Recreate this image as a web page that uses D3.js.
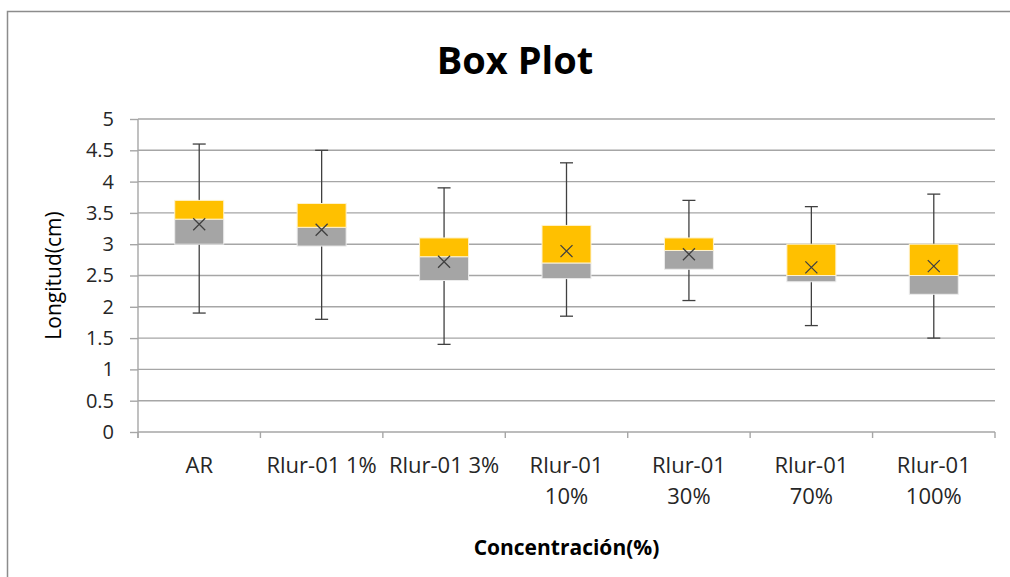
<!DOCTYPE html>
<html>
<head>
<meta charset="utf-8">
<script src="https://cdn.jsdelivr.net/npm/d3@7"></script>
<style>
  html, body { margin: 0; padding: 0; background: #fff; overflow: hidden; }
  svg { display: block; font-family: "Open Sans", sans-serif; }
</style>
</head>
<body>
<svg id="chart" width="1010" height="577"></svg>
<script>
// Categories (line breaks mark where the axis label wraps)
const categories = ["AR", "Rlur-01 1%", "Rlur-01 3%", "Rlur-01\n10%", "Rlur-01\n30%", "Rlur-01\n70%", "Rlur-01\n100%"];

// Five-number summaries and means, Longitud (cm)
const whiskerMin = [1.9, 1.8, 1.4, 1.85, 2.1, 1.7, 1.5];
const q1 = [3.0, 2.97, 2.42, 2.45, 2.6, 2.4, 2.2];
const median = [3.4, 3.27, 2.8, 2.7, 2.9, 2.5, 2.5];
const q3 = [3.7, 3.65, 3.1, 3.3, 3.1, 3.0, 3.0];
const whiskerMax = [4.6, 4.5, 3.9, 4.3, 3.7, 3.6, 3.8];
const mean = [3.32, 3.23, 2.72, 2.89, 2.84, 2.63, 2.65];

const yTicks = [0, 0.5, 1, 1.5, 2, 2.5, 3, 3.5, 4, 4.5, 5];

const title = "Box Plot";
const yTitle = "Longitud(cm)";
const xTitle = "Concentración(%)";

const rows = categories.map((c, i) => ({
  cat: c, min: whiskerMin[i], q1: q1[i], med: median[i], q3: q3[i], max: whiskerMax[i], mean: mean[i]
}));

const svg = d3.select("#chart");
const plot = { left: 138, right: 995, top: 119, bottom: 432 };

// Outer chart frame (top and left edges fall inside the view)
svg.append("path")
  .attr("d", "M7.5,577V11.5H1010")
  .attr("fill", "none").attr("stroke", "#8c8c8c").attr("stroke-width", 1.5);

const x = d3.scaleBand().domain(categories).range([plot.left, plot.right]).paddingInner(0).paddingOuter(0);
const y = d3.scaleLinear().domain([0, 5]).range([plot.bottom, plot.top]);

// Horizontal gridlines
svg.append("g")
  .selectAll("line")
  .data(yTicks.filter(t => t > 0))
  .join("line")
  .attr("x1", plot.left).attr("x2", plot.right)
  .attr("y1", d => y(d)).attr("y2", d => y(d))
  .attr("stroke", "#a6a6a6").attr("stroke-width", 1.4);

// Y axis
const yAxis = svg.append("g")
  .attr("transform", `translate(${plot.left},0)`)
  .call(d3.axisLeft(y).tickValues(yTicks).tickSize(8).tickPadding(16).tickFormat(d3.format("")));
yAxis.select(".domain").attr("stroke", "#a6a6a6").attr("stroke-width", 1.4)
  .attr("d", `M0,${plot.top}V${plot.bottom + 6}`);
yAxis.selectAll(".tick line").attr("stroke", "#a6a6a6").attr("stroke-width", 1.4);
yAxis.selectAll(".tick text")
  .attr("font-size", 20).attr("fill", "#262626")
  .attr("font-family", "'Open Sans', sans-serif");

// X axis: line along zero plus boundary ticks between categories
const xAxis = svg.append("g").attr("transform", `translate(0,${plot.bottom})`);
xAxis.append("line")
  .attr("x1", plot.left).attr("x2", plot.right)
  .attr("stroke", "#a6a6a6").attr("stroke-width", 1.4);
const boundaries = categories.map(c => x(c)).concat([x(categories[categories.length - 1]) + x.bandwidth()]);
xAxis.selectAll("line.bt")
  .data(boundaries)
  .join("line").attr("class", "bt")
  .attr("x1", d => d).attr("x2", d => d)
  .attr("y1", 0).attr("y2", 6)
  .attr("stroke", "#a6a6a6").attr("stroke-width", 1.4);

// Category labels
const labels = xAxis.selectAll("text.cat")
  .data(categories)
  .join("text").attr("class", "cat")
  .attr("text-anchor", "middle")
  .attr("font-size", 22).attr("fill", "#262626")
  .attr("transform", d => `translate(${x(d) + x.bandwidth() / 2},41)`);
labels.selectAll("tspan")
  .data(d => d.split("\n"))
  .join("tspan")
  .attr("x", 0)
  .attr("dy", (d, i) => i === 0 ? 0 : 31)
  .text(d => d.replace(" ", "\u00a0"));

const bw = x.bandwidth() * 0.4;
const g = svg.append("g");
const boxes = g.selectAll("g.box").data(rows).join("g").attr("class", "box")
  .attr("transform", d => `translate(${x(d.cat) + x.bandwidth() / 2},0)`);

// Whisker stems and caps
boxes.append("line")
  .attr("y1", d => y(d.max)).attr("y2", d => y(d.min))
  .attr("stroke", "#404040").attr("stroke-width", 1.3);
boxes.append("line")
  .attr("x1", -6.5).attr("x2", 6.5)
  .attr("y1", d => y(d.max)).attr("y2", d => y(d.max))
  .attr("stroke", "#404040").attr("stroke-width", 1.3);
boxes.append("line")
  .attr("x1", -6.5).attr("x2", 6.5)
  .attr("y1", d => y(d.min)).attr("y2", d => y(d.min))
  .attr("stroke", "#404040").attr("stroke-width", 1.3);

// Lower box (Q1 to median)
boxes.append("rect")
  .attr("x", -bw / 2).attr("width", bw)
  .attr("y", d => y(d.med)).attr("height", d => y(d.q1) - y(d.med))
  .attr("fill", "#a5a5a5").attr("stroke", "#ececec").attr("stroke-width", 1);
// Upper box (median to Q3)
boxes.append("rect")
  .attr("x", -bw / 2).attr("width", bw)
  .attr("y", d => y(d.q3)).attr("height", d => y(d.med) - y(d.q3))
  .attr("fill", "#ffc000").attr("stroke", "#fff2cc").attr("stroke-width", 1);

// Mean markers
const ms = 6;
boxes.append("path")
  .attr("d", d => `M${-ms},${y(d.mean) - ms}L${ms},${y(d.mean) + ms}M${-ms},${y(d.mean) + ms}L${ms},${y(d.mean) - ms}`)
  .attr("stroke", "#404040").attr("stroke-width", 1.3).attr("fill", "none");

// Titles
svg.append("text")
  .attr("x", 515).attr("y", 74)
  .attr("text-anchor", "middle")
  .attr("font-size", 38).attr("font-weight", "bold").attr("fill", "#000")
  .text(title);

svg.append("text")
  .attr("transform", `translate(61,${(plot.top + plot.bottom) / 2}) rotate(-90)`)
  .attr("text-anchor", "middle")
  .attr("font-size", 21).attr("fill", "#000")
  .text(yTitle);

svg.append("text")
  .attr("x", (plot.left + plot.right) / 2).attr("y", 555)
  .attr("text-anchor", "middle")
  .attr("font-size", 21).attr("font-weight", "bold").attr("fill", "#000")
  .text(xTitle);
</script>
</body>
</html>
